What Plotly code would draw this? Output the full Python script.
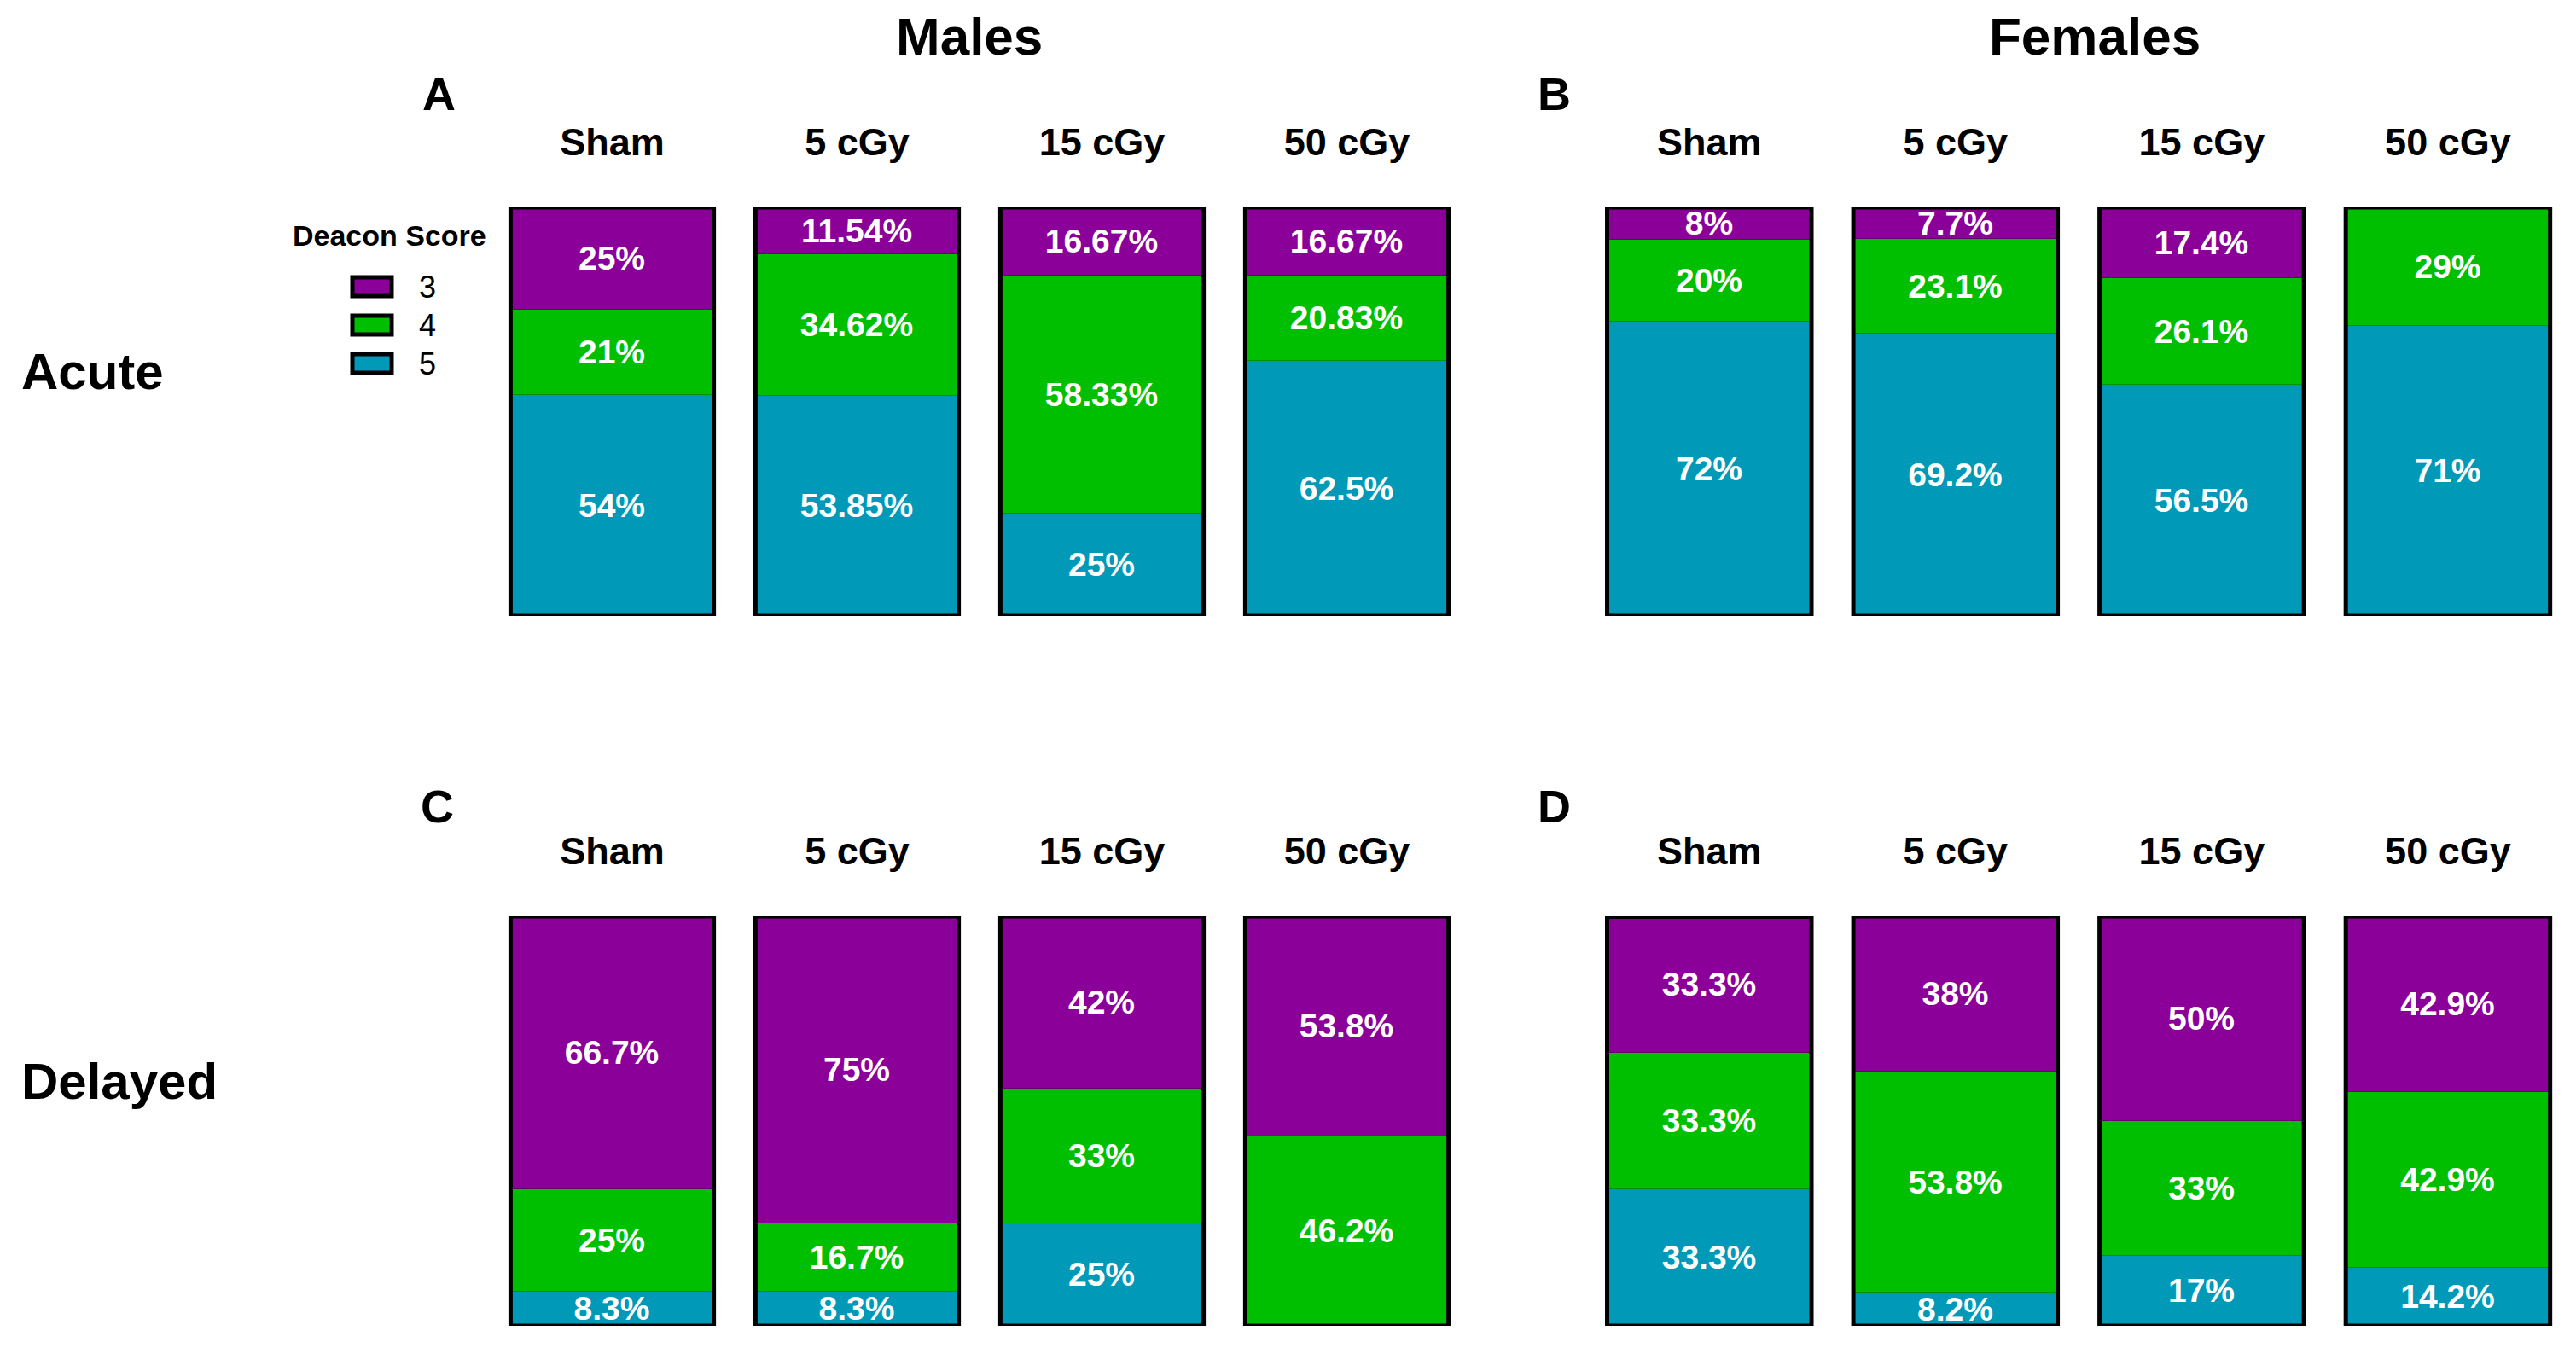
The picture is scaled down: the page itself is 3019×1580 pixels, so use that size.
import plotly.graph_objects as go

# ---------------- data ----------------
groups = ["Sham", "5 cGy", "15 cGy", "50 cGy"]
scores = ["3", "4", "5"]
colors = {"3": "#8A0099", "4": "#00BF00", "5": "#0099B8"}

# percentages per Deacon score, per dose group
males_acute_3 = [25, 11.54, 16.67, 16.67]
males_acute_4 = [21, 34.62, 58.33, 20.83]
males_acute_5 = [54, 53.85, 25, 62.5]

females_acute_3 = [8, 7.7, 17.4, 0]
females_acute_4 = [20, 23.1, 26.1, 29]
females_acute_5 = [72, 69.2, 56.5, 71]

males_delayed_3 = [66.7, 75, 42, 53.8]
males_delayed_4 = [25, 16.7, 33, 46.2]
males_delayed_5 = [8.3, 8.3, 25, 0]

females_delayed_3 = [33.3, 38, 50, 42.9]
females_delayed_4 = [33.3, 53.8, 33, 42.9]
females_delayed_5 = [33.3, 8.2, 17, 14.2]

panels = [
    ("", {"3": males_acute_3, "4": males_acute_4, "5": males_acute_5}),
    ("2", {"3": females_acute_3, "4": females_acute_4, "5": females_acute_5}),
    ("3", {"3": males_delayed_3, "4": males_delayed_4, "5": males_delayed_5}),
    ("4", {"3": females_delayed_3, "4": females_delayed_4, "5": females_delayed_5}),
]

W, H = 3019, 1580
OFF = 8  # page body margin
FONT = "Arial, Liberation Sans, sans-serif"
BAR_W = 0.83


def px(x):
    return (x - OFF) / W


def py(y):
    return 1 - (y - OFF) / H


def lab(v):
    return "" if v == 0 else f"{v:g}%"


fig = go.Figure()

for pi, (suf, d) in enumerate(panels):
    for s in ["5", "4", "3"]:
        fig.add_trace(go.Bar(
            x=groups, y=d[s], name=s,
            xaxis="x" + suf, yaxis="y" + suf,
            width=BAR_W,
            marker=dict(color=colors[s], line=dict(color="rgba(0,0,0,0.25)", width=1)),
            text=[lab(v) for v in d[s]],
            textposition="inside", insidetextanchor="middle",
            textfont=dict(family=FONT, size=39, color="white", weight="bold"),
            showlegend=False,
            hoverinfo="skip",
        ))
    # outline of each whole bar
    for i, g in enumerate(groups):
        tot = d["3"][i] + d["4"][i] + d["5"][i]
        fig.add_shape(type="rect", xref="x" + suf, yref="y" + suf,
                      x0=i - BAR_W / 2, x1=i + BAR_W / 2, y0=0, y1=tot,
                      line=dict(color="black", width=5), fillcolor="rgba(0,0,0,0)")

# domains (paper coords)
xdom_m = [px(574), px(1722)]
xdom_f = [px(1859), min(1.0, px(3013.2))]
ydom_top = [py(722), py(243)]
ydom_bot = [py(1554), py(1074)]

xaxis_common = dict(type="category", side="top", showgrid=False, zeroline=False,
                    showline=False, ticks="", ticklabelstandoff=51,
                    tickfont=dict(family=FONT, size=45, color="black", weight="bold"),
                    range=[-0.5, 3.5], fixedrange=True)
yaxis_common = dict(visible=False, range=[0, 100], showgrid=False, zeroline=False)

fig.update_layout(
    width=W, height=H,
    margin=dict(l=0, r=0, t=0, b=0),
    paper_bgcolor="white", plot_bgcolor="white",
    barmode="stack", bargap=0, showlegend=False,
    uniformtext=dict(minsize=39, mode="show"),
    xaxis=dict(xaxis_common, domain=xdom_m, anchor="y"),
    yaxis=dict(yaxis_common, domain=ydom_top, anchor="x"),
    xaxis2=dict(xaxis_common, domain=xdom_f, anchor="y2"),
    yaxis2=dict(yaxis_common, domain=ydom_top, anchor="x2"),
    xaxis3=dict(xaxis_common, domain=xdom_m, anchor="y3"),
    yaxis3=dict(yaxis_common, domain=ydom_bot, anchor="x3"),
    xaxis4=dict(xaxis_common, domain=xdom_f, anchor="y4"),
    yaxis4=dict(yaxis_common, domain=ydom_bot, anchor="x4"),
)

# ---------------- legend (drawn) ----------------
fig.add_annotation(text="<b>Deacon Score</b>", x=px(456), y=py(276), xref="paper", yref="paper",
                   xanchor="center", yanchor="middle", showarrow=False,
                   font=dict(family=FONT, size=34, color="black"))
leg_y = {"3": 336, "4": 381, "5": 426}
for s in scores:
    yc = leg_y[s]
    fig.add_shape(type="rect", xref="paper", yref="paper",
                  x0=px(413), x1=px(459), y0=py(yc + 11), y1=py(yc - 11),
                  fillcolor=colors[s], line=dict(color="black", width=5))
    fig.add_annotation(text=s, x=px(489), y=py(yc), xref="paper", yref="paper",
                       xanchor="left", yanchor="middle", showarrow=False,
                       font=dict(family=FONT, size=36, color="black"))

ann = [
    ("<b>Males</b>", 1136, 42, 62, "center"),
    ("<b>Females</b>", 2455, 42, 62, "center"),
    ("<b>A</b>", 514, 110, 54, "center"),
    ("<b>B</b>", 1821, 110, 54, "center"),
    ("<b>C</b>", 512, 945, 54, "center"),
    ("<b>D</b>", 1821, 945, 54, "center"),
    ("<b>Acute</b>", 23, 435, 60, "left"),
    ("<b>Delayed</b>", 23, 1267, 60, "left"),
]
for t, x, y, sz, anc in ann:
    fig.add_annotation(text=t, x=px(x), y=py(y), xref="paper", yref="paper",
                       xanchor=anc, yanchor="middle", showarrow=False,
                       font=dict(family=FONT, size=sz, color="black"))

fig.write_html("out.html")
